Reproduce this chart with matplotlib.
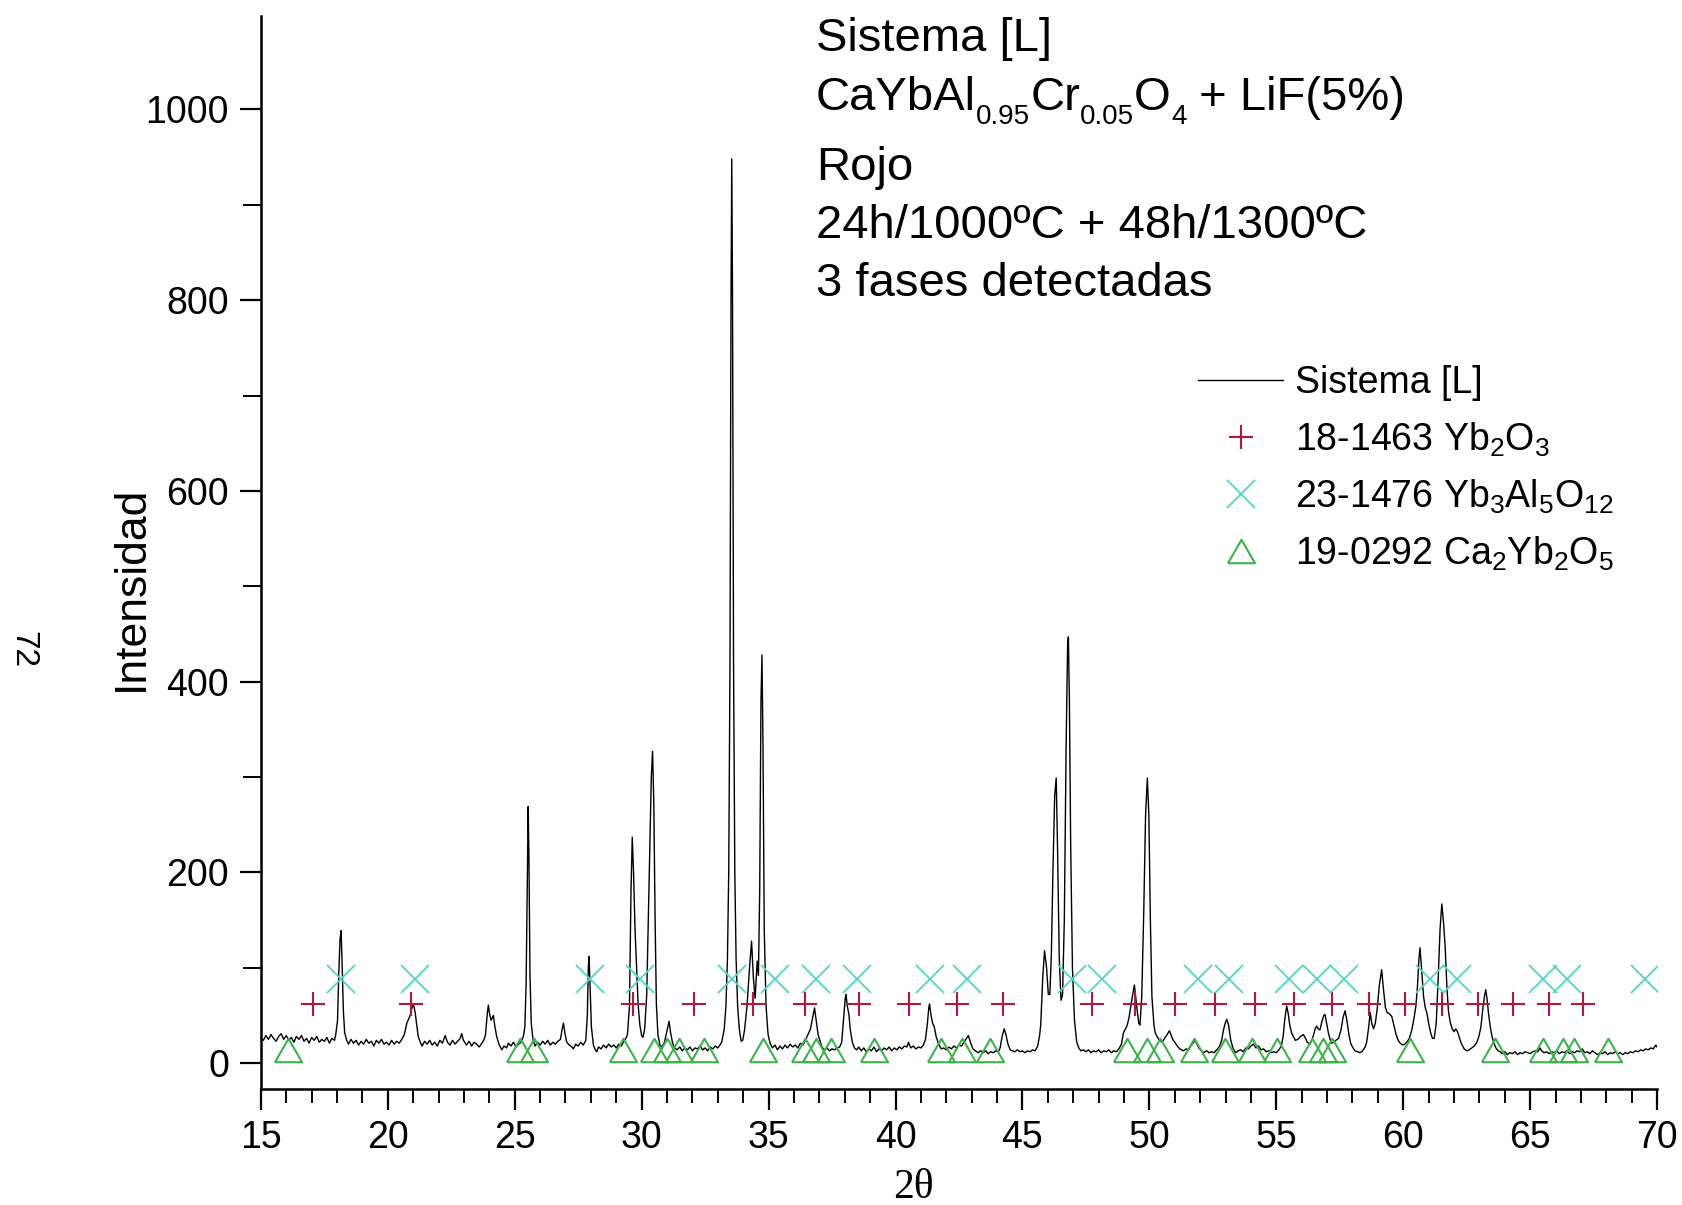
import numpy as np
import matplotlib
matplotlib.use("Agg")
import matplotlib.pyplot as plt
from matplotlib.ticker import MultipleLocator

plt.rcParams['font.family'] = ['Liberation Sans', 'DejaVu Sans']
plt.rcParams['mathtext.fontset'] = 'custom'
plt.rcParams['mathtext.rm'] = 'Liberation Sans'
plt.rcParams['mathtext.it'] = 'Liberation Sans:italic'
plt.rcParams['mathtext.bf'] = 'Liberation Sans:bold'

# digitised diffractogram: (2theta, counts)
scan = [
    (15.0, 27), (15.1, 24), (15.2, 29), (15.3, 25), (15.4, 30), (15.5, 26), (15.6, 23), (15.7, 28),
    (15.8, 31), (15.9, 25), (16.0, 29), (16.1, 24), (16.2, 27), (16.3, 22), (16.4, 28), (16.5, 25),
    (16.6, 29), (16.7, 23), (16.8, 26), (16.9, 21), (17.0, 27), (17.1, 24), (17.2, 28), (17.3, 22),
    (17.4, 25), (17.5, 23), (17.6, 27), (17.7, 21), (17.8, 26), (17.9, 24),
    (17.95, 30), (18.02, 45), (18.07, 95), (18.12, 130), (18.16, 139), (18.2, 105), (18.25, 55),
    (18.3, 32), (18.38, 24),
    (18.45, 20), (18.55, 25), (18.65, 21), (18.75, 24), (18.85, 19), (18.95, 23), (19.05, 20),
    (19.15, 25), (19.25, 21), (19.35, 23), (19.45, 18), (19.55, 24), (19.65, 21), (19.75, 25),
    (19.85, 20), (19.95, 22), (20.05, 19), (20.15, 24), (20.25, 20), (20.35, 23), (20.45, 21),
    (20.55, 25),
    (20.65, 30), (20.75, 42), (20.88, 50), (20.95, 58), (21.01, 62), (21.08, 53), (21.14, 40),
    (21.2, 28), (21.28, 22),
    (21.35, 18), (21.45, 23), (21.55, 20), (21.65, 24), (21.75, 19), (21.85, 22), (21.95, 18),
    (22.05, 24), (22.15, 21), (22.26, 29), (22.35, 22), (22.45, 19), (22.55, 24), (22.65, 20),
    (22.75, 23), (22.85, 26), (22.91, 31), (22.98, 24), (23.1, 19), (23.2, 23), (23.3, 18),
    (23.4, 22), (23.5, 20), (23.6, 17), (23.7, 21), (23.78, 24),
    (23.85, 30), (23.92, 52), (23.96, 61), (24.02, 50), (24.07, 45), (24.12, 48), (24.16, 50),
    (24.22, 38), (24.29, 28), (24.38, 20), (24.49, 14), (24.58, 18), (24.68, 16), (24.75, 21),
    (24.85, 18), (24.95, 22), (25.05, 17), (25.15, 20), (25.25, 22), (25.34, 28),
    (25.4, 38), (25.45, 85), (25.5, 200), (25.53, 269), (25.56, 215), (25.6, 95), (25.65, 42),
    (25.72, 25),
    (25.8, 18), (25.9, 22), (26.0, 19), (26.1, 23), (26.2, 20), (26.3, 24), (26.4, 19), (26.5, 22),
    (26.6, 20), (26.7, 23), (26.8, 25),
    (26.87, 36), (26.92, 42), (26.98, 31), (27.05, 22), (27.15, 19), (27.25, 17), (27.31, 15),
    (27.4, 20), (27.5, 18), (27.6, 22), (27.7, 19), (27.8, 24),
    (27.86, 50), (27.9, 100), (27.93, 112), (27.97, 80), (28.02, 38), (28.1, 19), (28.17, 14),
    (28.23, 12), (28.3, 17), (28.4, 15), (28.5, 19), (28.6, 16), (28.7, 20), (28.8, 17),
    (28.9, 19), (29.0, 16), (29.1, 20), (29.2, 18), (29.3, 23), (29.38, 26), (29.44, 30),
    (29.52, 60), (29.58, 180), (29.63, 237), (29.68, 200), (29.74, 140), (29.8, 100), (29.86, 62),
    (29.93, 40), (30.0, 29), (30.05, 27), (30.12, 36), (30.2, 72), (30.3, 200), (30.38, 300),
    (30.43, 327), (30.48, 270), (30.53, 150), (30.58, 62), (30.64, 30), (30.72, 19), (30.8, 17),
    (30.9, 22),
    (30.98, 32), (31.04, 40), (31.08, 44), (31.14, 32), (31.22, 21), (31.3, 16), (31.4, 14),
    (31.5, 17), (31.6, 13), (31.7, 16), (31.8, 14), (31.9, 17), (32.0, 13), (32.1, 16), (32.2, 15),
    (32.3, 18), (32.4, 14), (32.5, 16), (32.6, 13), (32.7, 17), (32.8, 15), (32.9, 18), (33.0, 16),
    (33.08, 19),
    (33.15, 22), (33.25, 35), (33.32, 60), (33.38, 110), (33.43, 200), (33.48, 420), (33.52, 800),
    (33.55, 948), (33.58, 800), (33.62, 420), (33.67, 200), (33.72, 110), (33.78, 60), (33.85, 35),
    (33.92, 23), (33.98, 24),
    (34.05, 34), (34.15, 60), (34.25, 100), (34.33, 128), (34.4, 90), (34.47, 68), (34.55, 107),
    (34.6, 92), (34.65, 180), (34.7, 380), (34.74, 428), (34.78, 330), (34.83, 140), (34.9, 60),
    (34.98, 30), (35.06, 21),
    (35.15, 16), (35.25, 19), (35.35, 14), (35.45, 18), (35.55, 15), (35.65, 19), (35.75, 16),
    (35.85, 20), (35.95, 17), (36.05, 19), (36.15, 16), (36.25, 21), (36.35, 19), (36.45, 24),
    (36.55, 30), (36.65, 36), (36.75, 50), (36.81, 58), (36.87, 46), (36.95, 30), (37.02, 24),
    (37.1, 17), (37.2, 14), (37.3, 16), (37.4, 13), (37.5, 15), (37.6, 14), (37.7, 16), (37.8, 17),
    (37.88, 22),
    (37.95, 45), (38.02, 68), (38.05, 72), (38.1, 60), (38.16, 52), (38.22, 35), (38.3, 22),
    (38.38, 16), (38.47, 14),
    (38.55, 17), (38.65, 13), (38.75, 16), (38.85, 12), (38.95, 15), (39.05, 13), (39.15, 17),
    (39.25, 12), (39.35, 15), (39.45, 13), (39.55, 16), (39.65, 14), (39.75, 17), (39.85, 13),
    (39.95, 16), (40.05, 14), (40.15, 17), (40.25, 15), (40.35, 18), (40.45, 17), (40.51, 22),
    (40.6, 16), (40.7, 18), (40.8, 15), (40.9, 17), (41.0, 16), (41.1, 19),
    (41.18, 25), (41.25, 40), (41.31, 58), (41.34, 62), (41.4, 50), (41.46, 42), (41.52, 39),
    (41.6, 28), (41.7, 20), (41.8, 15), (41.9, 16), (42.0, 14), (42.1, 17), (42.2, 15), (42.3, 18),
    (42.4, 16), (42.5, 19), (42.6, 18), (42.7, 22), (42.8, 26), (42.87, 29), (42.95, 22),
    (43.05, 15), (43.15, 13), (43.25, 11), (43.35, 13), (43.45, 11), (43.55, 13), (43.65, 10),
    (43.75, 12), (43.85, 11), (43.95, 13), (44.05, 12), (44.12, 16),
    (44.2, 28), (44.28, 36), (44.35, 30), (44.43, 20), (44.52, 14), (44.6, 13), (44.7, 12),
    (44.8, 14), (44.9, 12), (45.0, 13), (45.1, 11), (45.2, 13), (45.3, 12), (45.4, 14), (45.5, 13),
    (45.6, 18),
    (45.67, 28), (45.72, 40), (45.8, 90), (45.87, 118), (45.95, 100), (46.02, 72), (46.08, 72),
    (46.14, 115), (46.2, 200), (46.27, 280), (46.33, 299), (46.38, 230), (46.45, 110), (46.52, 66),
    (46.58, 72), (46.65, 150), (46.72, 330), (46.78, 440), (46.81, 447), (46.85, 380), (46.9, 230),
    (46.97, 100), (47.05, 45), (47.14, 22),
    (47.22, 16), (47.3, 13), (47.4, 14), (47.5, 12), (47.6, 14), (47.7, 11), (47.8, 13), (47.9, 12),
    (48.0, 14), (48.1, 11), (48.2, 13), (48.3, 12), (48.4, 14), (48.5, 11), (48.6, 13), (48.7, 12),
    (48.8, 15), (48.9, 20),
    (48.98, 32), (49.06, 36), (49.13, 40), (49.2, 48), (49.3, 65), (49.41, 82), (49.5, 60),
    (49.58, 42), (49.63, 40), (49.7, 70), (49.78, 160), (49.85, 260), (49.92, 299), (49.98, 260),
    (50.04, 150), (50.1, 70), (50.18, 40), (50.23, 32), (50.3, 28), (50.4, 24), (50.5, 22),
    (50.6, 26), (50.7, 30), (50.79, 34), (50.85, 30), (50.92, 25), (51.0, 22), (51.1, 18),
    (51.2, 15), (51.34, 13), (51.45, 15), (51.55, 14), (51.65, 19), (51.75, 22), (51.8, 25),
    (51.87, 20), (51.95, 16), (52.05, 13), (52.15, 11), (52.25, 13), (52.35, 11), (52.45, 12),
    (52.55, 11), (52.65, 14), (52.75, 17), (52.85, 24), (52.92, 35), (53.0, 43), (53.05, 46),
    (53.12, 40), (53.2, 25), (53.3, 15), (53.4, 11), (53.5, 13), (53.6, 14), (53.7, 12), (53.8, 16),
    (53.9, 15), (54.0, 18), (54.1, 20), (54.2, 16), (54.3, 18), (54.4, 14), (54.5, 15), (54.6, 12),
    (54.7, 13), (54.8, 11), (54.9, 12), (55.0, 11), (55.1, 14), (55.2, 18), (55.27, 28),
    (55.33, 45), (55.41, 60), (55.47, 52), (55.53, 40), (55.6, 32), (55.67, 28), (55.75, 24),
    (55.85, 25), (55.95, 28), (56.07, 30), (56.15, 26), (56.22, 22), (56.33, 20), (56.4, 24),
    (56.47, 30), (56.53, 36), (56.59, 39), (56.65, 36), (56.72, 35), (56.8, 44), (56.87, 50),
    (56.92, 51), (56.98, 42), (57.05, 32), (57.12, 25), (57.18, 21), (57.26, 22), (57.35, 24),
    (57.45, 26), (57.55, 35), (57.63, 48), (57.71, 55), (57.78, 45), (57.86, 30), (57.93, 21),
    (58.0, 17), (58.1, 13), (58.2, 12), (58.3, 11), (58.4, 13), (58.5, 17), (58.56, 22),
    (58.63, 36), (58.7, 53), (58.76, 42), (58.83, 36), (58.9, 42), (58.98, 58), (59.06, 82),
    (59.15, 98), (59.22, 78), (59.3, 58), (59.37, 53), (59.45, 52), (59.55, 49), (59.63, 40),
    (59.72, 30), (59.8, 24), (59.88, 21), (59.98, 19), (60.06, 20), (60.14, 22), (60.24, 26),
    (60.34, 35), (60.43, 48), (60.5, 60), (60.56, 80), (60.62, 110), (60.66, 121), (60.72, 100),
    (60.8, 70), (60.87, 58), (60.93, 53), (61.0, 42), (61.08, 32), (61.15, 26), (61.22, 26),
    (61.3, 42), (61.38, 90), (61.45, 140), (61.52, 167), (61.58, 150), (61.65, 123), (61.72, 80),
    (61.78, 55), (61.85, 43), (61.93, 36), (62.0, 33), (62.07, 36), (62.14, 33), (62.22, 26),
    (62.3, 20), (62.4, 15), (62.5, 13), (62.6, 14), (62.7, 16), (62.8, 18), (62.9, 22),
    (62.98, 28), (63.06, 38), (63.14, 58), (63.2, 70), (63.25, 77), (63.3, 68), (63.36, 52),
    (63.43, 38), (63.49, 29), (63.56, 22), (63.65, 16), (63.74, 13), (63.82, 12),
    (63.9, 10), (64.0, 12), (64.1, 9), (64.2, 11), (64.3, 10), (64.4, 12), (64.5, 9), (64.6, 11),
    (64.7, 10), (64.8, 12), (64.9, 11), (65.0, 10), (65.1, 12), (65.2, 13), (65.3, 12), (65.39, 16),
    (65.45, 13), (65.55, 11), (65.65, 12), (65.75, 10), (65.85, 12), (65.95, 11), (66.05, 13),
    (66.15, 10), (66.25, 12), (66.35, 11), (66.45, 13), (66.55, 10), (66.65, 12), (66.75, 11),
    (66.85, 13), (66.95, 12), (67.05, 15), (67.15, 11), (67.25, 12), (67.35, 10), (67.45, 13),
    (67.55, 11), (67.65, 9), (67.75, 11), (67.85, 10), (67.95, 12), (68.05, 9), (68.15, 11),
    (68.25, 10), (68.35, 12), (68.45, 10), (68.55, 11), (68.65, 9), (68.75, 11), (68.85, 10),
    (68.95, 12), (69.05, 11), (69.15, 13), (69.25, 12), (69.35, 14), (69.45, 13), (69.55, 15),
    (69.65, 14), (69.75, 16), (69.85, 15), (69.95, 19), (70.0, 17),
]

# reference patterns (peak positions, drawn at a fixed height)
yb2o3_peaks = [17.06, 20.90, 29.65, 32.06, 34.40, 36.45, 38.58, 40.54, 42.42, 44.23, 47.73, 49.43,
               51.01, 52.60, 54.15, 55.69, 57.20, 58.66, 60.07, 61.52, 62.96, 64.34, 65.76, 67.07]
yb2o3_level = 62

yag_peaks = [18.16, 21.06, 27.96, 29.95, 33.54, 35.26, 36.87, 38.47, 41.37, 42.80, 46.94, 48.15,
             51.93, 53.12, 55.50, 56.60, 57.66, 61.06, 62.11, 65.52, 66.44, 69.53]
yag_level = 88

ca2yb2o5_peaks = [16.08, 25.20, 25.76, 29.27, 30.48, 31.01, 31.46, 32.44, 34.78, 36.42, 36.85,
                  37.45, 39.16, 41.80, 42.63, 43.72, 49.13, 49.90, 50.41, 51.76, 52.98, 54.03,
                  55.02, 56.40, 56.85, 57.20, 60.27, 63.60, 65.52, 66.28, 66.71, 68.08]
ca2yb2o5_level = 14

legend_labels = ['Sistema [L]',
                 r'18-1463 Yb$_2$O$_3$',
                 r'23-1476 Yb$_3$Al$_5$O$_{12}$',
                 r'19-0292 Ca$_2$Yb$_2$O$_5$']

# info block; the formula line is split into (text, is_subscript) pieces
formula_parts = [('CaYbAl', False), ('0.95', True), ('Cr', False), ('0.05', True),
                 ('O', False), ('4', True), (' + LiF(5%)', False)]
info_lines = ['Sistema [L]', formula_parts, 'Rojo', '24h/1000ºC + 48h/1300ºC',
              '3 fases detectadas']
info_baselines = [0.9573, 0.9083, 0.8504, 0.8022, 0.7545]

tt, counts = np.array(scan).T

fig = plt.figure(figsize=(16.83, 12.05), dpi=100)
ax = fig.add_axes([0.155, 0.0963, 0.8296, 0.8905])

ax.plot(tt, counts, color='black', lw=1.0, label=legend_labels[0])
ax.plot(yb2o3_peaks, [yb2o3_level] * len(yb2o3_peaks), ls='none', marker='+', ms=17,
        mew=1.5, color='#b4163c', label=legend_labels[1])
ax.plot(yag_peaks, [yag_level] * len(yag_peaks), ls='none', marker='x', ms=19.5,
        mew=1.3, color='#52d6c4', label=legend_labels[2])
triangle = [(-1, -0.866), (1, -0.866), (0, 0.866), (-1, -0.866)]
ax.plot(ca2yb2o5_peaks, [ca2yb2o5_level] * len(ca2yb2o5_peaks), ls='none', marker=triangle,
        ms=19.5, mew=1.5, mfc='none', mec='#3cb44b', label=legend_labels[3])

ax.set_xlim(15, 70)
ax.set_ylim(-27, 1098)
for side in ['top', 'right']:
    ax.spines[side].set_visible(False)
for side in ['left', 'bottom']:
    ax.spines[side].set_linewidth(1.8)

ax.xaxis.set_major_locator(MultipleLocator(5))
ax.xaxis.set_minor_locator(MultipleLocator(1))
ax.yaxis.set_major_locator(MultipleLocator(200))
ax.yaxis.set_minor_locator(MultipleLocator(100))
ax.tick_params(which='major', direction='out', width=1.6, labelsize=27)
ax.tick_params(axis='x', which='major', length=15, pad=7)
ax.tick_params(axis='y', which='major', length=15, pad=8)
ax.tick_params(axis='x', which='minor', direction='out', length=10, width=1.4)
ax.tick_params(axis='y', which='minor', direction='out', length=13, width=1.4)

fig.text(0.543, 0.014, '2θ', fontsize=30, family=['Liberation Serif', 'DejaVu Serif'],
         ha='center', va='center')
fig.text(0.0778, 0.512, 'Intensidad', fontsize=32, rotation=90, ha='center', va='center')
fig.text(0.0134, 0.4614, '72', fontsize=24, rotation=-90, ha='center', va='center')


def chem_text(x, y, parts, size=34, sub_size=20, sub_drop=10):
    # lay pieces one after another, subscripts smaller and lowered
    prev = None
    for txt, is_sub in parts:
        fs = sub_size if is_sub else size
        dy = -sub_drop if is_sub else 0
        if prev is None:
            prev = ax.annotate(txt, xy=(x, y), xycoords='figure fraction',
                               xytext=(0, dy), textcoords='offset points',
                               fontsize=fs, va='baseline', ha='left', annotation_clip=False)
        else:
            prev = ax.annotate(txt, xy=(1, y), xycoords=(prev, 'figure fraction'),
                               xytext=(0, dy), textcoords='offset points',
                               fontsize=fs, va='baseline', ha='left', annotation_clip=False)


for line, yb in zip(info_lines, info_baselines):
    if isinstance(line, list):
        chem_text(0.4849, yb, line)
    else:
        fig.text(0.4849, yb, line, fontsize=34, ha='left', va='baseline')

ax.legend(loc='upper left', bbox_to_anchor=(0.7118, 0.6967), bbox_transform=fig.transFigure,
          frameon=False, fontsize=27, handlelength=2.27, handletextpad=0.31,
          labelspacing=0.5, borderpad=0, borderaxespad=0)

fig.savefig('out.png', dpi=100)
